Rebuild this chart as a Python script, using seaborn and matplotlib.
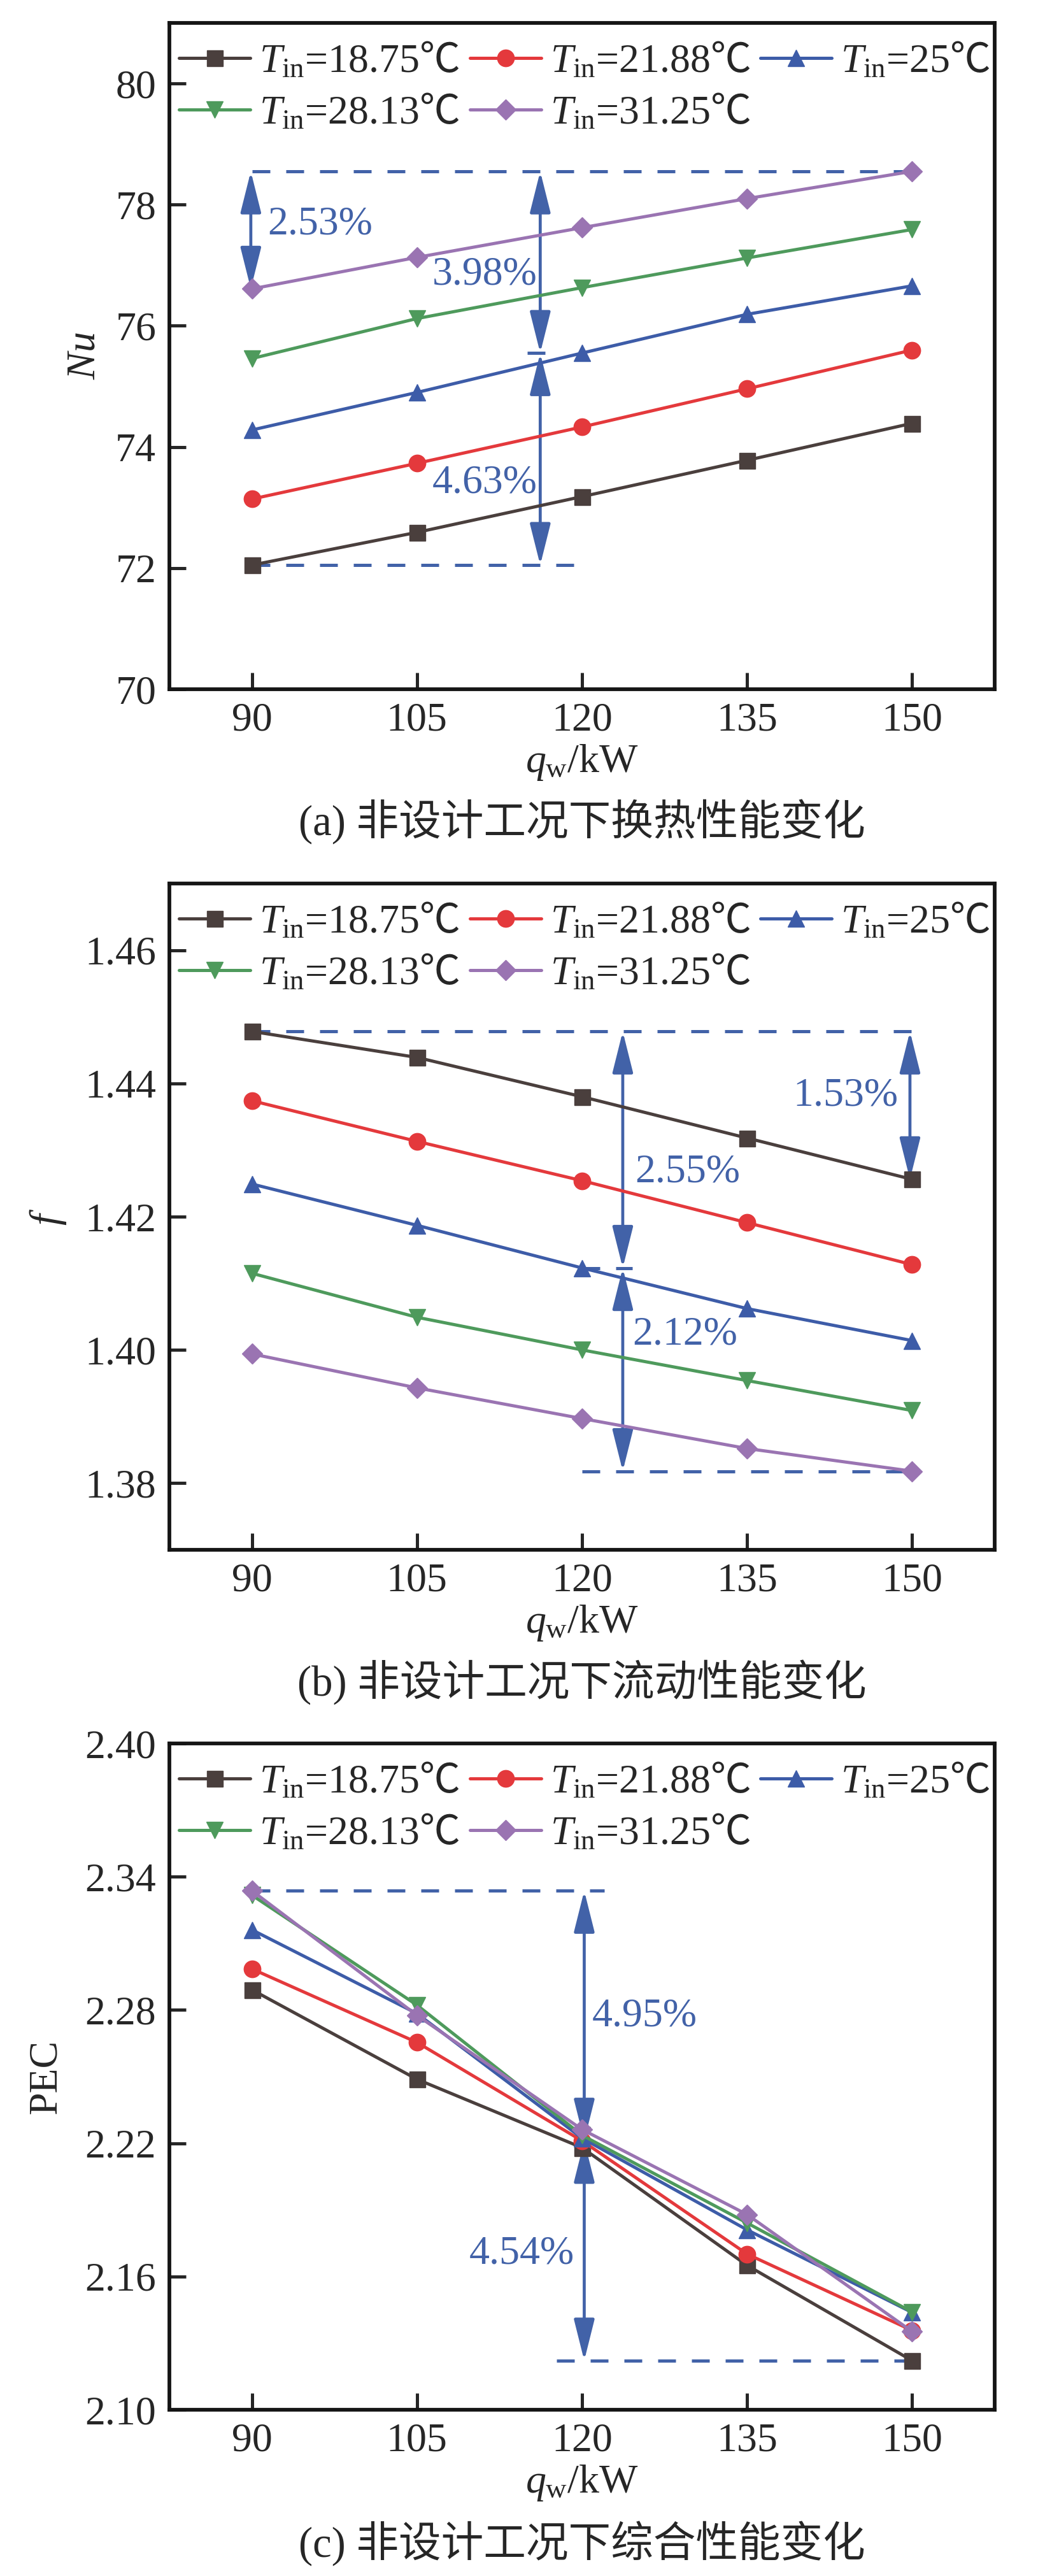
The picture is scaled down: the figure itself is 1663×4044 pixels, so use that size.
import numpy as np
import pandas as pd
import seaborn as sns
import matplotlib.pyplot as plt

# heat flux q_w (kW) and inlet temperatures
q_w = [90, 105, 120, 135, 150]
t_in = ['18.75', '21.88', '25', '28.13', '31.25']

# (a) Nu
nu_1875 = [72.05, 72.59, 73.18, 73.78, 74.39]
nu_2188 = [73.14, 73.73, 74.33, 74.96, 75.60]
nu_2500 = [74.28, 74.90, 75.55, 76.19, 76.66]
nu_2813 = [75.46, 76.12, 76.63, 77.12, 77.59]
nu_3125 = [76.61, 77.13, 77.62, 78.10, 78.55]

# (b) f
f_1875 = [1.4478, 1.4439, 1.4380, 1.4318, 1.4256]
f_2188 = [1.4374, 1.4313, 1.4254, 1.4191, 1.4128]
f_2500 = [1.4249, 1.4187, 1.4123, 1.4062, 1.4014]
f_2813 = [1.4115, 1.4049, 1.4000, 1.3954, 1.3909]
f_3125 = [1.3994, 1.3943, 1.3897, 1.3852, 1.3818]

# (c) PEC
pec_1875 = [2.2891, 2.2488, 2.2180, 2.1650, 2.1221]
pec_2188 = [2.2985, 2.2654, 2.2211, 2.1701, 2.1357]
pec_2500 = [2.3161, 2.2784, 2.2223, 2.1810, 2.1438]
pec_2813 = [2.3317, 2.2822, 2.2236, 2.1841, 2.1440]
pec_3125 = [2.3337, 2.2776, 2.2262, 2.1879, 2.1352]

colors = ['#4A3F3D', '#E4393C', '#3D5CA8', '#4E9A5C', '#9A74B2']
markers = ['s', 'o', '^', 'v', 'D']
msizes = [18, 19, 19, 19, 16]
note_c = '#4262A8'
FS = 46

sns.set_theme(style='ticks')
plt.rcParams['font.family'] = ['Liberation Serif', 'DejaVu Serif', 'Noto Sans CJK SC']
plt.rcParams['mathtext.fontset'] = 'custom'
plt.rcParams['mathtext.rm'] = 'Liberation Serif'
plt.rcParams['mathtext.it'] = 'Liberation Serif:italic'
plt.rcParams['mathtext.bf'] = 'Liberation Serif:bold'
plt.rcParams['mathtext.sf'] = 'Noto Sans CJK SC'
plt.rcParams['font.size'] = FS
plt.rcParams['axes.linewidth'] = 4.2

fig = plt.figure(figsize=(16.63, 40.44), dpi=100)
left, width, height = 0.15995, 0.77932, 0.25865
ax_a = fig.add_axes([left, 0.73244, width, height])
ax_b = fig.add_axes([left, 0.39837, width, height])
ax_c = fig.add_axes([left, 0.06454, width, height])


def draw_panel(ax, series, ylim, yticks, yfmt, ylabel, ylabel_x):
    for vals, c, m, ms, t in zip(series, colors, markers, msizes, t_in):
        sns.lineplot(x=q_w, y=vals, ax=ax, color=c, marker=m, markersize=ms,
                     markeredgecolor=c, markeredgewidth=1, linewidth=3.6,
                     errorbar=None,
                     label=r'$T_{\rm in}$=' + t + r'$\mathsf{℃}$')
    h, l = ax.get_legend_handles_labels()
    order = [0, 3, 1, 4, 2]
    ax.legend([h[i] for i in order], [l[i] for i in order], ncol=3,
              loc='upper left', bbox_to_anchor=(-0.003, 0.99),
              frameon=False, fontsize=FS,
              handlelength=1.75, handletextpad=0.22, columnspacing=0.25,
              labelspacing=0.3, borderpad=0.1, borderaxespad=0.2)
    ax.set_xlim(82.5, 157.5)
    ax.set_xticks(q_w)
    ax.set_ylim(*ylim)
    ax.set_yticks(yticks)
    ax.set_yticklabels([yfmt.format(v) for v in yticks])
    ax.tick_params(direction='in', length=18.7, width=3.6, labelsize=FS,
                   pad=15, top=False, right=False)
    ax.set_xlabel(r'$q_{\rm w}$/kW', fontsize=FS)
    ax.xaxis.labelpad = 4
    ax.set_ylabel(ylabel, fontsize=FS)
    ax.yaxis.set_label_coords(ylabel_x, 0.5)
    for s in ax.spines.values():
        s.set_visible(True)
        s.set_linewidth(4.2)
        s.set_color('#151515')


def dashed(ax, y, x0, x1):
    ax.hlines(y, x0, x1, colors=note_c, linewidth=3.6,
              linestyles=(0, (5.6, 5.0)), zorder=1)


def arrow(ax, x, y0, y1):
    ax.annotate('', xy=(x, y1), xytext=(x, y0),
                arrowprops=dict(arrowstyle='<|-|>,head_length=4.0,head_width=1.0',
                                color=note_c, lw=3.4, shrinkA=0, shrinkB=0,
                                mutation_scale=10), zorder=1)


def note(ax, x, y, s, ha):
    ax.text(x, y, s, color=note_c, fontsize=FS, ha=ha, va='center')


# (a)
nu = [nu_1875, nu_2188, nu_2500, nu_2813, nu_3125]
draw_panel(ax_a, nu, (70, 81), [70, 72, 74, 76, 78, 80], '{:.0f}', r'$Nu$', -0.08)
dashed(ax_a, nu_3125[4], 90, 150)
dashed(ax_a, nu_1875[0], 90, 119.5)
dashed(ax_a, nu_2500[2], 115, 118)
arrow(ax_a, 89.9, nu_3125[4], nu_3125[0])
arrow(ax_a, 116.2, nu_3125[4], nu_2500[2])
arrow(ax_a, 116.2, nu_2500[2], nu_1875[0])
note(ax_a, 91.4, 77.67, '2.53%', 'left')
note(ax_a, 115.9, 76.84, '3.98%', 'right')
note(ax_a, 115.9, 73.40, '4.63%', 'right')

# (b)
ff = [f_1875, f_2188, f_2500, f_2813, f_3125]
draw_panel(ax_b, ff, (1.37, 1.47), [1.38, 1.40, 1.42, 1.44, 1.46], '{:.2f}', r'$f$', -0.123)
dashed(ax_b, f_1875[0], 90, 151)
dashed(ax_b, f_3125[4], 120, 150)
dashed(ax_b, f_2500[2], 120, 124.6)
arrow(ax_b, 149.8, f_1875[0], f_1875[4])
arrow(ax_b, 123.7, f_1875[0], f_2500[2])
arrow(ax_b, 123.7, f_2500[2], f_3125[4])
note(ax_b, 148.7, 1.4381, '1.53%', 'right')
note(ax_b, 124.8, 1.4266, '2.55%', 'left')
note(ax_b, 124.6, 1.4023, '2.12%', 'left')

# (c)
pec = [pec_1875, pec_2188, pec_2500, pec_2813, pec_3125]
draw_panel(ax_c, pec, (2.10, 2.40), [2.10, 2.16, 2.22, 2.28, 2.34, 2.40], '{:.2f}', 'PEC', -0.127)
dashed(ax_c, pec_3125[0], 90, 122)
dashed(ax_c, pec_1875[4], 117.7, 150)
arrow(ax_c, 120.2, pec_3125[0], pec_2188[2])
arrow(ax_c, 120.2, pec_2188[2], pec_1875[4])
note(ax_c, 120.9, 2.2771, '4.95%', 'left')
note(ax_c, 119.3, 2.1701, '4.54%', 'right')

cx = left + width / 2
fig.text(cx, 1 - 1290 / 4044, '(a) 非设计工况下换热性能变化', ha='center', va='center', fontsize=48)
fig.text(cx, 1 - 2641 / 4044, '(b) 非设计工况下流动性能变化', ha='center', va='center', fontsize=48)
fig.text(cx, 1 - 3993 / 4044, '(c) 非设计工况下综合性能变化', ha='center', va='center', fontsize=48)

fig.savefig('out.png', dpi=100)
